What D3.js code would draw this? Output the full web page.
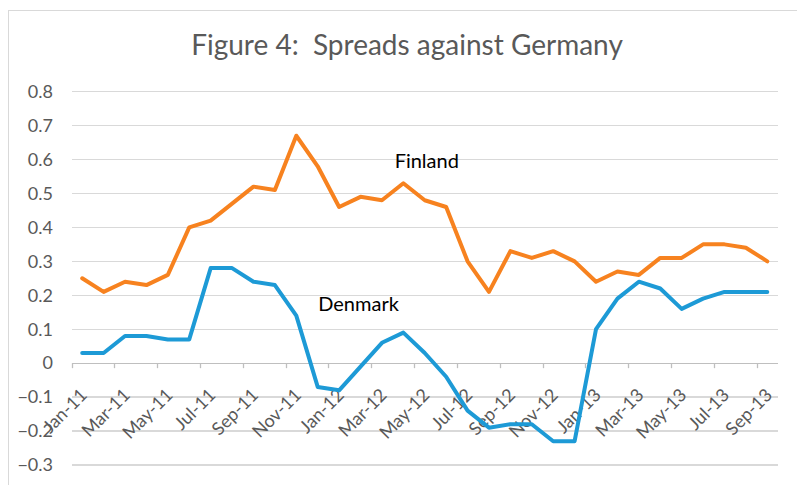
<!DOCTYPE html>
<html lang="en">
<head>
    <meta charset="UTF-8">
    <title>Spreads against Germany</title>
    <style>
        body { margin: 0; background: #fff; }
        svg text { font-family: Lato, 'Open Sans', sans-serif; }
        .grid line { stroke: #d9d9d9; stroke-width: 1.3; shape-rendering: crispEdges; }
        .tick-label { fill: #595959; font-size: 18px; }
    </style>
</head>
<body>
    <div id='chart'></div>

    <script src='https://cdnjs.cloudflare.com/ajax/libs/d3/7.8.5/d3.min.js'></script>
    <script type='text/javascript'>
        const width = 797;
        const height = 485;

        // monthly categories
        const months = ['Jan-11', 'Feb-11', 'Mar-11', 'Apr-11', 'May-11', 'Jun-11', 'Jul-11', 'Aug-11', 'Sep-11', 'Oct-11', 'Nov-11', 'Dec-11',
                        'Jan-12', 'Feb-12', 'Mar-12', 'Apr-12', 'May-12', 'Jun-12', 'Jul-12', 'Aug-12', 'Sep-12', 'Oct-12', 'Nov-12', 'Dec-12',
                        'Jan-13', 'Feb-13', 'Mar-13', 'Apr-13', 'May-13', 'Jun-13', 'Jul-13', 'Aug-13', 'Sep-13'];

        const finland = [0.25, 0.21, 0.24, 0.23, 0.26, 0.40, 0.42, 0.47, 0.52, 0.51, 0.67, 0.58,
                         0.46, 0.49, 0.48, 0.53, 0.48, 0.46, 0.30, 0.21, 0.33, 0.31, 0.33, 0.30,
                         0.24, 0.27, 0.26, 0.31, 0.31, 0.35, 0.35, 0.34, 0.30];

        const denmark = [0.03, 0.03, 0.08, 0.08, 0.07, 0.07, 0.28, 0.28, 0.24, 0.23, 0.14, -0.07,
                         -0.08, -0.01, 0.06, 0.09, 0.03, -0.04, -0.14, -0.19, -0.18, -0.18, -0.23, -0.23,
                         0.10, 0.19, 0.24, 0.22, 0.16, 0.19, 0.21, 0.21, 0.21];

        const yTicks = [-0.3, -0.2, -0.1, 0, 0.1, 0.2, 0.3, 0.4, 0.5, 0.6, 0.7, 0.8];
        // every other month gets a label
        const xLabels = months.filter((m, i) => i % 2 === 0);

        let svg = d3.select('#chart')
                    .append('svg')
                      .attr('width', width)
                      .attr('height', height);

        // chart area border
        svg.append('rect')
             .attr('x', 8.5).attr('y', 10.5)
             .attr('width', 820).attr('height', 520)
             .attr('fill', 'none')
             .attr('stroke', '#d9d9d9');

        let xScale = d3.scaleBand().domain(months).range([71.5, 778]).paddingInner(0).paddingOuter(0);
        let yScale = d3.scaleLinear().domain([-0.3, 0.8]).range([465, 91.6]);
        const cx = (m) => xScale(m) + xScale.bandwidth() / 2;

        // title (double space kept)
        svg.append('text')
             .attr('x', 407)
             .attr('y', 55)
             .attr('text-anchor', 'middle')
             .style('font-size', '28px')
             .style('fill', '#595959')
             .style('white-space', 'pre')
             .text('Figure 4:  Spreads against Germany');

        // horizontal gridlines
        svg.append('g')
             .attr('class', 'grid')
           .selectAll('line')
           .data(yTicks.filter(d => d !== 0))
           .enter()
           .append('line')
             .attr('x1', xScale.range()[0])
             .attr('x2', xScale.range()[1])
             .attr('y1', d => yScale(d))
             .attr('y2', d => yScale(d));

        // y tick labels
        svg.append('g')
           .selectAll('text')
           .data(yTicks)
           .enter()
           .append('text')
             .attr('class', 'tick-label')
             .attr('x', 53)
             .attr('y', d => yScale(d))
             .attr('dy', '0.35em')
             .attr('text-anchor', 'end')
             .text(d => d3.format('')(d));

        // category axis at zero
        let xAxis = svg.append('g').attr('class', 'x-axis');
        xAxis.append('line')
               .attr('x1', xScale.range()[0])
               .attr('x2', xScale.range()[1])
               .attr('y1', yScale(0))
               .attr('y2', yScale(0))
               .attr('stroke', '#bfbfbf')
               .attr('stroke-width', 1.3)
               .attr('shape-rendering', 'crispEdges');

        xAxis.selectAll('line.tick')
               .data(xLabels)
               .enter()
               .append('line')
                 .attr('class', 'tick')
                 .attr('x1', d => Math.round(xScale(d)) + 0.5)
                 .attr('x2', d => Math.round(xScale(d)) + 0.5)
                 .attr('y1', yScale(0))
                 .attr('y2', yScale(0) + 5)
                 .attr('stroke', '#bfbfbf')
                 .attr('stroke-width', 1.3);

        xAxis.selectAll('text')
               .data(xLabels)
               .enter()
               .append('text')
                 .attr('class', 'tick-label')
                 .attr('text-anchor', 'end')
                 .attr('transform', d => `translate(${cx(d) + 6}, ${yScale(0) + 33}) rotate(-45)`)
                 .text(d => d);

        // series lines
        const line = (vals) => d3.line()
                                 .x((d, i) => cx(months[i]))
                                 .y(d => yScale(d))(vals);

        svg.append('path')
             .attr('d', line(finland))
             .attr('fill', 'none')
             .attr('stroke', '#f7821f')
             .attr('stroke-width', 4)
             .attr('stroke-linejoin', 'round')
             .attr('stroke-linecap', 'round');

        svg.append('path')
             .attr('d', line(denmark))
             .attr('fill', 'none')
             .attr('stroke', '#1d9ad6')
             .attr('stroke-width', 4)
             .attr('stroke-linejoin', 'round')
             .attr('stroke-linecap', 'round');

        // series labels
        svg.append('text')
             .attr('x', cx('May-12') + 2)
             .attr('y', yScale(0.575))
             .attr('text-anchor', 'middle')
             .style('font-size', '20px')
             .style('fill', '#000')
             .text('Finland');

        svg.append('text')
             .attr('x', cx('Feb-12') - 2)
             .attr('y', yScale(0.153))
             .attr('text-anchor', 'middle')
             .style('font-size', '20px')
             .style('fill', '#000')
             .text('Denmark');
    </script>
</body>
</html>
